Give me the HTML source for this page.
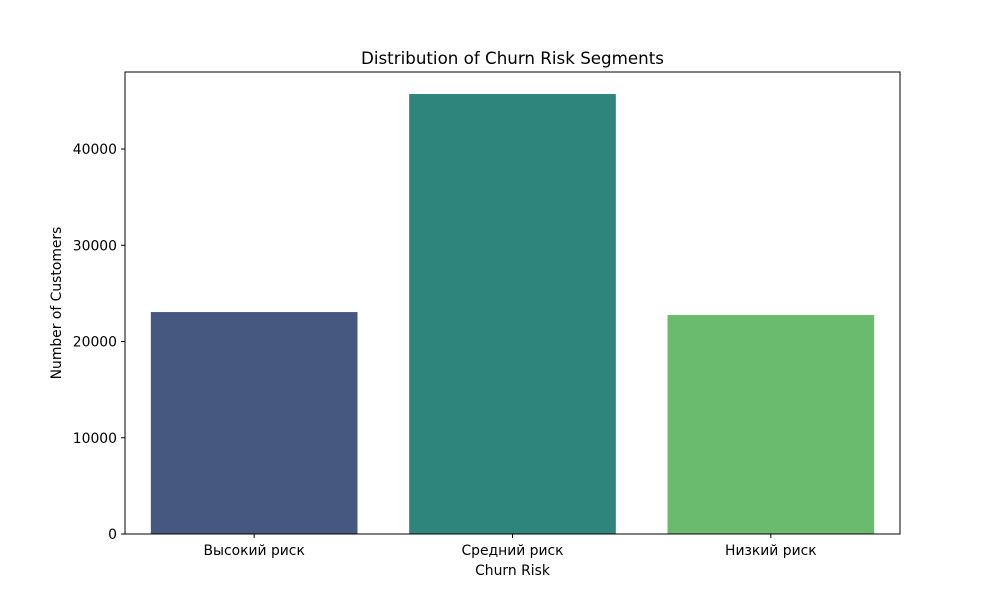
<!DOCTYPE html>
<html><head><meta charset="utf-8"><style>
body{margin:0;background:#fff;}
svg text{font-family:"DejaVu Sans","Liberation Sans",sans-serif;fill:#000;}
</style></head><body>
<svg id="chart" width="1000" height="600" xmlns="http://www.w3.org/2000/svg">
<rect width="1000" height="600" fill="#fff"/>
<text x="512.5" y="64" font-size="16.7" text-anchor="middle">Distribution of Churn Risk Segments</text>
<g id="bars"></g>
<g id="yticks"></g>
<g id="xticks"></g>
<rect x="125" y="72" width="775" height="462" fill="none" stroke="#000" stroke-width="1"/>
<text x="512.5" y="575" font-size="13.9" text-anchor="middle">Churn Risk</text>
<text transform="translate(61,303) rotate(-90)" font-size="13.9" text-anchor="middle">Number of Customers</text>
</svg>
<script>
const categories=["Высокий риск","Средний риск","Низкий риск"];
const values=[23060,45710,22750];
const yTicks=[0,10000,20000,30000,40000];
const colors=["#46587f","#2e857c","#6abb6e"];
const NS="http://www.w3.org/2000/svg";
const L=125,R=900,T=72,B=534,yMax=48000;
const y=v=>B-(v/yMax)*(B-T);
const step=(R-L)/categories.length;
const x=i=>L+step*(i+0.5);
const bw=step*0.8;
const bars=document.getElementById('bars');
values.forEach((v,i)=>{
 const r=document.createElementNS(NS,'rect');
 r.setAttribute('x',x(i)-bw/2);r.setAttribute('y',y(v));
 r.setAttribute('width',bw);r.setAttribute('height',B-y(v));
 r.setAttribute('fill',colors[i]);
 
 
 bars.appendChild(r);
});
const yt=document.getElementById('yticks');
yTicks.forEach(t=>{
 const l=document.createElementNS(NS,'line');
 l.setAttribute('x1',L-4);l.setAttribute('x2',L);l.setAttribute('y1',y(t));l.setAttribute('y2',y(t));l.setAttribute('stroke','#000');
 
 
 yt.appendChild(l);
 const s=document.createElementNS(NS,'text');
 s.setAttribute('x',L-8);s.setAttribute('y',y(t)+5);s.setAttribute('font-size','13.9');s.setAttribute('text-anchor','end');
 s.textContent=t;
 
 
 yt.appendChild(s);
});
const xt=document.getElementById('xticks');
categories.forEach((c,i)=>{
 const l=document.createElementNS(NS,'line');
 l.setAttribute('x1',x(i));l.setAttribute('x2',x(i));l.setAttribute('y1',B);l.setAttribute('y2',B+4);l.setAttribute('stroke','#000');
 
 
 xt.appendChild(l);
 const s=document.createElementNS(NS,'text');
 s.setAttribute('x',x(i));s.setAttribute('y',B+21);s.setAttribute('font-size','13.9');s.setAttribute('text-anchor','middle');
 s.textContent=c;
 
 
 xt.appendChild(s);
});
</script>
</body></html>
